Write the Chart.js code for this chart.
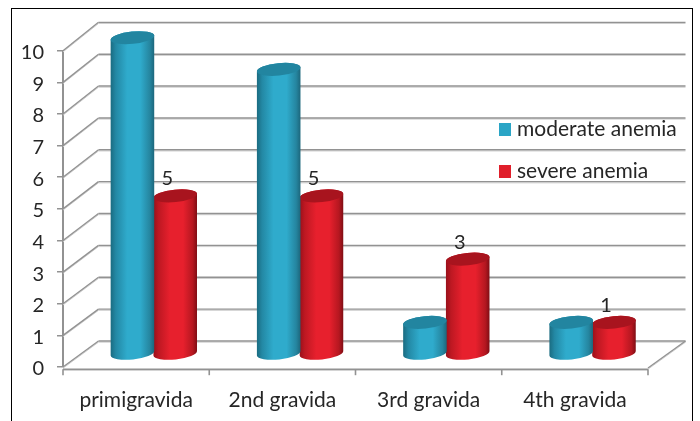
<!DOCTYPE html>
<html>
<head>
<meta charset="utf-8">
<style>html,body{margin:0;padding:0;background:#fff;overflow:hidden}canvas{display:block}</style>
<script src="https://cdn.jsdelivr.net/npm/chart.js@4"></script>
</head>
<body>
<canvas id="c" width="700" height="421"></canvas>
<script>
const categories = ['primigravida', '2nd gravida', '3rd gravida', '4th gravida'];
const moderateAnemia = [10, 9, 1, 1];
const severeAnemia = [5, 5, 3, 1];
const seriesNames = ['moderate anemia', 'severe anemia'];
const tickValues = [0, 1, 2, 3, 4, 5, 6, 7, 8, 9, 10];

const FONT = 'Lato, Carlito, sans-serif';
const INK = '#262626';
const GRID = '#929292';
const GRID_SOFT = '#cfcfcf';

// Oblique projection of the chart box: back wall and the mid-depth plane of the bars.
const WALL_DX = 35.5, WALL_DY = -26, WALL_STRETCH = 1.0075;
const BAR_DX = 17.7, BAR_DY = -13;
const TILT = -0.1, CAP_RY = 6.2;
const FLOOR_DROP = 2.2;

const palettes = [
  { swatch: '#2aa5c6', cap: '#2285a0', edgeL: '#1a6b80', shadeL: '#2388a4', mid: '#2fabcc', shadeR: '#25859f', edgeR: '#1c667b' },
  { swatch: '#e01f2b', cap: '#a8141e', edgeL: '#98101a', shadeL: '#bd1822', mid: '#e7202d', shadeR: '#b51720', edgeR: '#7e0d14' }
];

function backY(yScale, front) {
  const zero = yScale.getPixelForValue(0);
  return zero + WALL_DY - (zero - front) * WALL_STRETCH;
}

function softLine(ctx, x1, y1, x2, y2) {
  ctx.lineWidth = 1;
  ctx.strokeStyle = GRID_SOFT;
  ctx.beginPath(); ctx.moveTo(x1, y1 + 1.2); ctx.lineTo(x2, y2 + 1.2); ctx.stroke();
  ctx.lineWidth = 1.4;
  ctx.strokeStyle = GRID;
  ctx.beginPath(); ctx.moveTo(x1, y1); ctx.lineTo(x2, y2); ctx.stroke();
}

function drawCylinder(ctx, cx, top, base, rx, pal) {
  const grad = ctx.createLinearGradient(cx - rx, 0, cx + rx, 0);
  grad.addColorStop(0, pal.edgeL);
  grad.addColorStop(0.12, pal.shadeL);
  grad.addColorStop(0.38, pal.mid);
  grad.addColorStop(0.68, pal.mid);
  grad.addColorStop(0.9, pal.shadeR);
  grad.addColorStop(1, pal.edgeR);

  ctx.beginPath();
  ctx.ellipse(cx, base, rx, CAP_RY, TILT, Math.PI, 0, true);
  ctx.ellipse(cx, top, rx, CAP_RY, TILT, 0, Math.PI, true);
  ctx.closePath();
  ctx.fillStyle = grad;
  ctx.fill();

  ctx.beginPath();
  ctx.ellipse(cx, top, rx, CAP_RY, TILT, 0, Math.PI * 2);
  ctx.fillStyle = pal.cap;
  ctx.fill();
}

const boxPlugin = {
  id: 'box3d',
  // Lato digits sit a little high on the middle baseline; nudge the value axis labels down.
  beforeDraw(chart) {
    chart.scales.y.getLabelItems().forEach(item => { item.textOffset = 2; });
  },
  // Side wall, back wall and floor sit behind the bars.
  beforeDatasetsDraw(chart) {
    const { ctx, scales: { x, y } } = chart;
    const right = x.right, left = x.left;
    ctx.save();
    tickValues.forEach(v => {
      const fy = y.getPixelForValue(v), by = backY(y, fy);
      softLine(ctx, left + WALL_DX, by, right + WALL_DX + 2, by);
      softLine(ctx, left, fy, left + WALL_DX, by);
    });
    const fy0 = y.getPixelForValue(0);
    softLine(ctx, right, fy0 + 1, right + WALL_DX + 2, backY(y, fy0));

    // Front edge of the floor runs just under the zero tick, with category separators below it.
    const floor = fy0 + FLOOR_DROP;
    softLine(ctx, left, floor, right, floor);
    ctx.strokeStyle = GRID;
    ctx.lineWidth = 1.6;
    categories.concat('').forEach((_, i) => {
      const tx = left + i * (right - left) / categories.length;
      ctx.beginPath(); ctx.moveTo(tx, floor); ctx.lineTo(tx, floor + 6); ctx.stroke();
    });
    ctx.restore();
  },
  // Each series is painted as upright cylinders at the bar positions.
  beforeDatasetDraw(chart, args) {
    const { ctx } = chart;
    const pal = palettes[args.index];
    ctx.save();
    args.meta.data.forEach(bar => {
      const { x, y, base, width } = bar.getProps(['x', 'y', 'base', 'width'], true);
      drawCylinder(ctx, x + BAR_DX, y + BAR_DY, base + BAR_DY, width / 2 + 0.5, pal);
    });
    ctx.restore();
    return false;
  },
  afterDraw(chart) {
    const { ctx } = chart;
    ctx.save();
    // Value labels of the second series.
    ctx.font = '20px ' + FONT;
    ctx.fillStyle = INK;
    ctx.textAlign = 'center';
    ctx.textBaseline = 'middle';
    chart.getDatasetMeta(1).data.forEach((bar, i) => {
      ctx.fillText(String(severeAnemia[i]), bar.x + BAR_DX - 8, bar.y + BAR_DY - 17);
    });
    // Legend inside the plot.
    ctx.textAlign = 'left';
    ctx.font = '21px ' + FONT;
    seriesNames.forEach((name, i) => {
      const top = 123 + i * 42;
      ctx.fillStyle = palettes[i].swatch;
      ctx.fillRect(499, top, 12, 13);
      ctx.fillStyle = INK;
      ctx.fillText(name, 517, top + 6.5);
    });
    // Outer frame, open below the canvas edge.
    ctx.strokeStyle = '#000';
    ctx.lineWidth = 1;
    ctx.strokeRect(11.5, 8.5, 681, 430);
    ctx.restore();
  }
};

new Chart(document.getElementById('c'), {
  type: 'bar',
  data: {
    labels: categories,
    datasets: [
      { label: seriesNames[0], data: moderateAnemia, backgroundColor: palettes[0].swatch, categoryPercentage: 0.585, barPercentage: 1 },
      { label: seriesNames[1], data: severeAnemia, backgroundColor: palettes[1].swatch, categoryPercentage: 0.585, barPercentage: 1 }
    ]
  },
  plugins: [boxPlugin],
  options: {
    responsive: false,
    animation: false,
    layout: { padding: { left: 0, top: 50.7, right: 52, bottom: 0 } },
    plugins: { legend: { display: false }, tooltip: { enabled: false } },
    scales: {
      x: {
        afterFit(s) { s.height = 54; },
        grid: { display: false, drawTicks: false },
        border: { display: false },
        ticks: { color: INK, font: { family: FONT, size: 21 }, padding: 21, maxRotation: 0 }
      },
      y: {
        min: 0, max: 10,
        afterFit(s) { s.width = 63; },
        grid: { drawOnChartArea: false, drawTicks: true, tickLength: 6, color: GRID, lineWidth: 1.5 },
        border: { color: GRID, width: 2 },
        ticks: { stepSize: 1, color: INK, font: { family: FONT, size: 20 }, padding: 13 }
      }
    }
  }
});
</script>
</body>
</html>
